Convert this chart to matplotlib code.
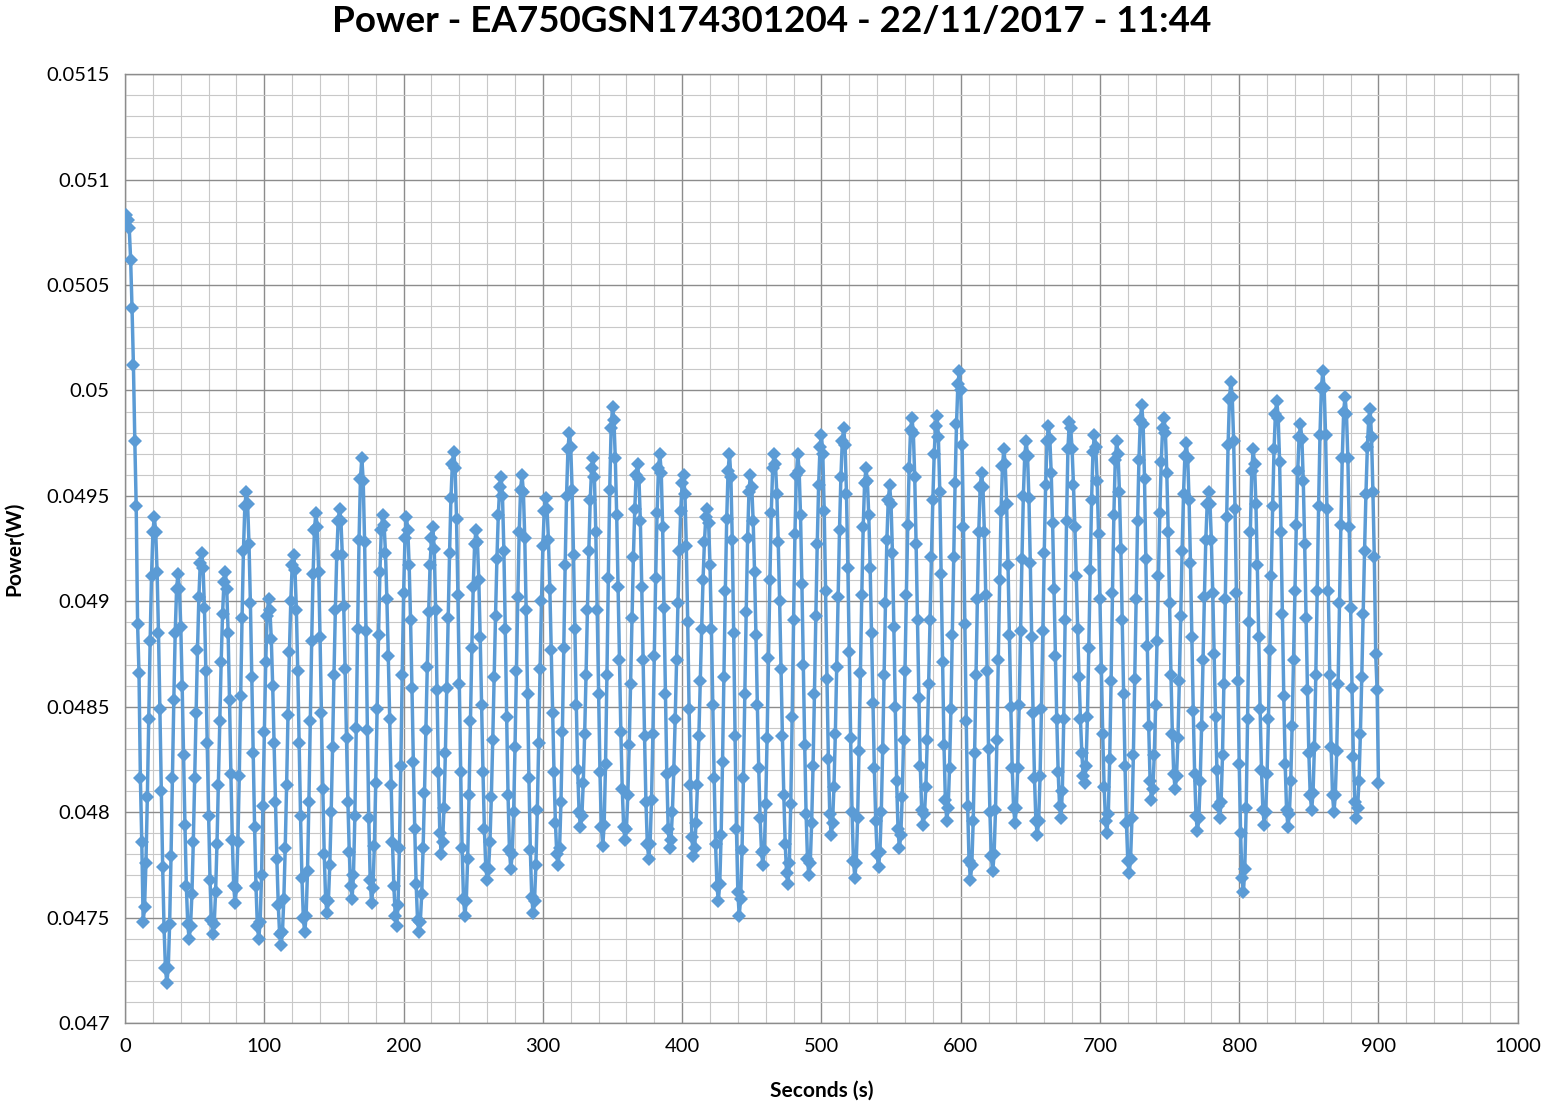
import numpy as np
import matplotlib
matplotlib.use("Agg")
import matplotlib.pyplot as plt
from matplotlib.ticker import MultipleLocator, FuncFormatter

# power readings in microwatts, one sample per second (t = 0 .. 900 s)
power_uw = [
    50800, 50830, 50810, 50770, 50620, 50390, 50120, 49760, 49450, 48890, 48660, 48160, 47860, 47480,
    47550, 47760, 48070, 48440, 48810, 49120, 49330, 49400,
    49330, 49140, 48850, 48490, 48100, 47740, 47450, 47260, 47190,
    47260, 47470, 47790, 48160, 48530, 48850, 49060, 49130,
    49060, 48880, 48600, 48270, 47940, 47650, 47470, 47400,
    47460, 47610, 47860, 48160, 48470, 48770, 49020, 49180, 49230,
    49160, 48970, 48670, 48330, 47980, 47680, 47490, 47420,
    47470, 47620, 47850, 48130, 48430, 48710, 48940, 49090, 49140,
    49060, 48850, 48530, 48180, 47870, 47650, 47570,
    47640, 47860, 48170, 48550, 48920, 49240, 49450, 49520,
    49460, 49270, 48990, 48640, 48280, 47930, 47650, 47460, 47400,
    47480, 47700, 48030, 48380, 48710, 48930, 49010,
    48960, 48820, 48600, 48330, 48050, 47780, 47560, 47420, 47370,
    47430, 47590, 47830, 48130, 48460, 48760, 49000, 49170, 49220,
    49150, 48960, 48670, 48330, 47980, 47690, 47500, 47430,
    47510, 47720, 48050, 48430, 48810, 49130, 49340, 49420,
    49350, 49140, 48830, 48470, 48110, 47800, 47590, 47520,
    47580, 47750, 48000, 48310, 48650, 48960, 49220, 49380, 49440,
    49380, 49220, 48980, 48680, 48350, 48050, 47810, 47650, 47590,
    47700, 47980, 48400, 48870, 49290, 49580, 49680,
    49570, 49280, 48860, 48390, 47970, 47680, 47570,
    47640, 47840, 48140, 48490, 48840, 49140, 49340, 49410,
    49360, 49230, 49010, 48740, 48440, 48130, 47860, 47650, 47510, 47460,
    47560, 47830, 48220, 48650, 49040, 49300, 49400,
    49340, 49170, 48910, 48590, 48240, 47920, 47660, 47490, 47430,
    47480, 47610, 47830, 48090, 48390, 48690, 48950, 49170, 49300, 49350,
    49250, 48960, 48580, 48190, 47900, 47800,
    47860, 48020, 48280, 48590, 48920, 49230, 49490, 49650, 49710,
    49630, 49390, 49030, 48610, 48190, 47830, 47590, 47510,
    47580, 47780, 48080, 48430, 48780, 49070, 49270, 49340,
    49280, 49100, 48830, 48510, 48190, 47920, 47740, 47680,
    47730, 47860, 48070, 48340, 48640, 48930, 49200, 49410, 49540, 49590,
    49500, 49240, 48870, 48450, 48080, 47820, 47730,
    47800, 48000, 48310, 48670, 49020, 49330, 49530, 49600,
    49520, 49300, 48960, 48560, 48160, 47820, 47600, 47520,
    47580, 47750, 48010, 48330, 48680, 49000, 49260, 49430, 49490,
    49440, 49290, 49060, 48770, 48470, 48190, 47950, 47800, 47750,
    47830, 48050, 48380, 48780, 49170, 49500, 49720, 49800,
    49730, 49530, 49220, 48870, 48510, 48200, 48000, 47930,
    47980, 48140, 48370, 48650, 48960, 49240, 49480, 49630, 49680,
    49590, 49330, 48960, 48560, 48190, 47930, 47840,
    47940, 48230, 48650, 49110, 49530, 49820, 49920,
    49860, 49680, 49410, 49070, 48720, 48380, 48110, 47930, 47870,
    47920, 48080, 48320, 48610, 48920, 49210, 49440, 49600, 49650,
    49580, 49380, 49070, 48720, 48360, 48050, 47850, 47780,
    47850, 48060, 48370, 48740, 49110, 49420, 49630, 49700,
    49610, 49350, 48970, 48560, 48180, 47920, 47830,
    47870, 48000, 48200, 48440, 48720, 48990, 49240, 49430, 49560, 49600,
    49510, 49260, 48900, 48490, 48130, 47880, 47790,
    47830, 47950, 48130, 48360, 48620, 48870, 49100, 49280, 49400, 49440,
    49370, 49170, 48870, 48510, 48160, 47850, 47650, 47580,
    47660, 47890, 48240, 48640, 49050, 49390, 49620, 49700,
    49590, 49290, 48850, 48360, 47920, 47620, 47510,
    47590, 47820, 48160, 48560, 48950, 49300, 49520, 49600,
    49540, 49380, 49140, 48840, 48510, 48210, 47970, 47810, 47750,
    47820, 48040, 48350, 48730, 49100, 49420, 49630, 49700,
    49650, 49510, 49280, 49000, 48680, 48360, 48080, 47850, 47710, 47660,
    47760, 48040, 48450, 48910, 49320, 49600, 49700,
    49620, 49410, 49080, 48700, 48320, 47990, 47780, 47700,
    47760, 47950, 48220, 48560, 48930, 49270, 49550, 49730, 49790,
    49700, 49430, 49050, 48630, 48250, 47990, 47890,
    47950, 48120, 48370, 48690, 49020, 49340, 49590, 49760, 49820,
    49740, 49510, 49160, 48760, 48350, 48000, 47770, 47690,
    47760, 47970, 48290, 48660, 49030, 49350, 49560, 49630,
    49570, 49410, 49160, 48850, 48520, 48210, 47960, 47800, 47740,
    47810, 48000, 48300, 48650, 48990, 49290, 49480, 49550,
    49460, 49230, 48880, 48500, 48150, 47920, 47830,
    47890, 48070, 48340, 48670, 49030, 49360, 49630, 49810, 49870,
    49800, 49590, 49270, 48910, 48540, 48220, 48010, 47940,
    47990, 48120, 48340, 48610, 48910, 49210, 49480, 49700, 49830, 49880,
    49780, 49520, 49130, 48710, 48320, 48060, 47960,
    48020, 48210, 48490, 48840, 49210, 49560, 49840, 50030, 50090,
    50000, 49740, 49350, 48890, 48430, 48030, 47770, 47680,
    47750, 47960, 48280, 48650, 49010, 49330, 49540, 49610,
    49540, 49330, 49030, 48670, 48300, 48000, 47790, 47720,
    47800, 48010, 48340, 48720, 49100, 49430, 49640, 49720,
    49650, 49460, 49170, 48840, 48500, 48210, 48020, 47950,
    48020, 48210, 48510, 48860, 49200, 49500, 49690, 49760,
    49690, 49490, 49180, 48830, 48470, 48160, 47960, 47890,
    47960, 48170, 48490, 48860, 49230, 49550, 49760, 49830,
    49770, 49610, 49370, 49060, 48740, 48440, 48190, 48030, 47970,
    48100, 48440, 48910, 49380, 49720, 49850,
    49820, 49720, 49550, 49350, 49120, 48870, 48640, 48440, 48280, 48170, 48140,
    48220, 48450, 48780, 49150, 49480, 49710, 49790,
    49730, 49570, 49320, 49010, 48680, 48370, 48120, 47960, 47900,
    47990, 48250, 48620, 49040, 49410, 49670, 49760,
    49700, 49520, 49250, 48910, 48560, 48220, 47950, 47770, 47710,
    47780, 47970, 48270, 48630, 49010, 49380, 49670, 49860, 49930,
    49840, 49580, 49200, 48790, 48410, 48150, 48060,
    48110, 48270, 48510, 48810, 49120, 49420, 49660, 49820, 49870,
    49800, 49610, 49330, 48990, 48650, 48370, 48180, 48110,
    48170, 48350, 48620, 48930, 49240, 49510, 49690, 49750,
    49680, 49480, 49180, 48830, 48480, 48180, 47980, 47910,
    47970, 48150, 48410, 48720, 49020, 49290, 49460, 49520,
    49460, 49290, 49040, 48750, 48450, 48200, 48030, 47970,
    48050, 48270, 48610, 49010, 49400, 49740, 49960, 50040,
    49970, 49760, 49440, 49040, 48620, 48230, 47900, 47690, 47620,
    47730, 48020, 48440, 48900, 49330, 49620, 49720,
    49650, 49460, 49170, 48830, 48490, 48200, 48010, 47940,
    48000, 48180, 48440, 48770, 49120, 49450, 49720, 49890, 49950,
    49870, 49660, 49330, 48940, 48550, 48230, 48010, 47930,
    47990, 48150, 48410, 48720, 49050, 49360, 49620, 49780, 49840,
    49770, 49570, 49270, 48920, 48580, 48280, 48080, 48010,
    48090, 48310, 48650, 49050, 49450, 49790, 50010, 50090,
    50010, 49790, 49440, 49050, 48650, 48310, 48080, 48000,
    48080, 48290, 48610, 48990, 49360, 49680, 49900, 49970,
    49890, 49680, 49350, 48970, 48590, 48260, 48050, 47970,
    48020, 48150, 48370, 48640, 48940, 49240, 49510, 49730, 49860, 49910,
    49780, 49520, 49210, 48750, 48580, 48140,
]

seconds = np.arange(len(power_uw))
power = np.array(power_uw) / 1e6

title = "Power - EA750GSN174301204 - 22/11/2017 - 11:44"
x_label = "Seconds (s)"
y_label = "Power(W)"


def excel_format(v, pos):
    # Excel "General" style: drop trailing zeros
    s = f"{v:.4f}".rstrip("0").rstrip(".")
    return s


plt.rcParams['font.family'] = ['Lato', 'DejaVu Sans']

fig = plt.figure(figsize=(15.44, 11.06), dpi=100)
ax = fig.add_axes([0.081, 0.075, 0.902, 0.858])

ax.plot(seconds, power, color='#5B9BD5', linewidth=2.5,
        marker='D', markersize=7, markeredgewidth=0, zorder=3)

ax.set_xlim(0, 1000)
ax.set_ylim(0.047, 0.0515)
ax.xaxis.set_major_locator(MultipleLocator(100))
ax.xaxis.set_minor_locator(MultipleLocator(20))
ax.yaxis.set_major_locator(MultipleLocator(0.0005))
ax.yaxis.set_minor_locator(MultipleLocator(0.0001))
ax.yaxis.set_major_formatter(FuncFormatter(excel_format))

ax.grid(which='major', color='#8C8C8C', linewidth=1.0)
ax.grid(which='minor', color='#C8C8C8', linewidth=0.8)
ax.set_axisbelow(True)
for side in ax.spines.values():
    side.set_color('#8C8C8C')
    side.set_linewidth(1.0)

ax.tick_params(which='both', length=0)
ax.tick_params(axis='y', pad=11, labelsize=14.5)
ax.tick_params(axis='x', pad=11, labelsize=14.5)

ax.set_xlabel(x_label, fontsize=15, fontweight='bold', labelpad=18)
ax.set_ylabel(y_label, fontsize=15, fontweight='bold', labelpad=16)
fig.text(0.5, 0.981, title, ha='center', va='center', fontsize=26.5, fontweight='bold')

fig.savefig('out.png', dpi=100)
